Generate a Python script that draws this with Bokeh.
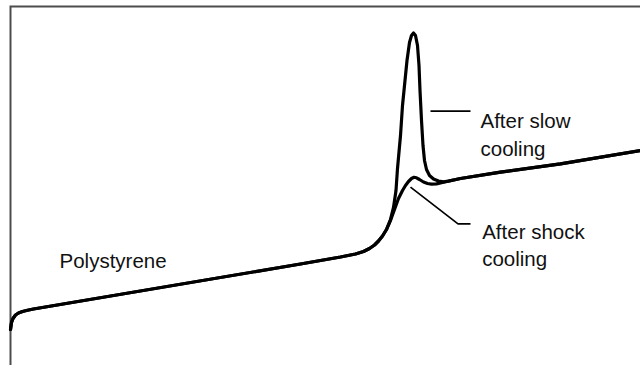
from bokeh.plotting import figure
from bokeh.models import Range1d, ColumnDataSource
from bokeh.core.properties import value
from bokeh.embed import file_html
from bokeh.resources import INLINE

# Temperature (arbitrary °C scale) and heat flow (arbitrary units)
slow_T = [40.0, 40.2, 40.5, 41.0, 41.6, 42.4, 43.4, 44.6, 98.0, 106.0, 109.0, 110.6,
          111.8, 112.8, 113.6, 114.4, 115.2, 116.0, 116.6, 117.1, 117.4, 118.0, 118.4,
          118.8, 119.3, 119.8, 120.2, 120.6, 121.0, 121.4, 121.7, 121.9, 122.2, 122.5,
          122.8, 123.2, 123.8, 124.6, 125.6, 126.6, 127.6, 130.0, 138.0, 150.0, 166.0]
slow_H = [3.6, 4.3, 4.7, 5.05, 5.25, 5.4, 5.52, 5.65, 10.15, 10.85, 11.15, 11.4,
          11.7, 12.05, 12.45, 12.95, 13.6, 14.6, 15.8, 17.5, 19.7, 23.0, 26.0,
          28.0, 30.5, 32.3, 33.0, 33.25, 33.0, 32.0, 30.0, 27.5, 24.5, 22.0,
          20.5, 19.6, 19.0, 18.65, 18.45, 18.37, 18.44, 18.7, 19.33, 20.17, 21.5]

shock_T = [40.0, 40.2, 40.5, 41.0, 41.6, 42.4, 43.4, 44.6, 98.0, 106.0, 109.0, 110.6,
           111.8, 112.8, 113.6, 114.4, 115.2, 116.0, 116.8, 117.6, 118.4, 119.0, 119.6,
           120.2, 120.7, 121.2, 121.8, 122.6, 123.4, 124.2, 125.2, 126.2, 127.2, 130.0,
           138.0, 150.0, 166.0]
shock_H = [3.6, 4.3, 4.7, 5.05, 5.25, 5.4, 5.52, 5.65, 10.15, 10.85, 11.15, 11.4,
           11.7, 12.05, 12.45, 12.95, 13.6, 14.5, 15.6, 16.7, 17.5, 18.0, 18.4,
           18.7, 18.82, 18.77, 18.6, 18.35, 18.2, 18.14, 18.16, 18.27, 18.4, 18.7,
           19.33, 20.17, 21.5]

label_text = ["Polystyrene", "After slow", "cooling", "After shock", "cooling"]
label_T = [49.8, 134.0, 134.0, 134.34, 134.34]
label_H = [10.5, 24.5, 21.73, 13.43, 10.67]

slow_leader_T = [124.0, 132.0]
slow_leader_H = [25.43, 25.43]
shock_leader_T = [120.0, 129.5, 132.0]
shock_leader_H = [17.83, 14.17, 14.17]

# plot frame box: left edge / top edge / right end / bottom end
frame_T = [40.0, 166.0]
frame_H = [0.0, 35.9]

p = figure(width=640, height=365, output_backend="svg", toolbar_location=None,
           x_range=Range1d(39.6, 166), y_range=Range1d(0, 36.1),
           x_axis_location=None, y_axis_location=None,
           min_border_left=8, min_border_top=4, min_border_right=0, min_border_bottom=0)
p.outline_line_color = None
p.grid.visible = False

# frame: top line and left line
p.line([frame_T[0], frame_T[0], frame_T[1]], [frame_H[0], frame_H[1], frame_H[1]],
       line_color="#4d4d4d", line_width=2, line_join="miter")

p.line(slow_T, slow_H, line_color="black", line_width=3.2, line_join="round", line_cap="round")
p.line(shock_T, shock_H, line_color="black", line_width=3.2, line_join="round", line_cap="round")

p.line(slow_leader_T, slow_leader_H, line_color="black", line_width=1.7)
p.line(shock_leader_T, shock_leader_H, line_color="black", line_width=1.7)

src = ColumnDataSource(dict(x=label_T, y=label_H, t=label_text))
p.text(x="x", y="y", text="t", source=src, text_font=value("Liberation Sans"),
       text_font_size="20.5px", text_color="#111111", text_baseline="alphabetic",
       text_align="left")

open("out.html", "w").write(file_html(p, INLINE))
